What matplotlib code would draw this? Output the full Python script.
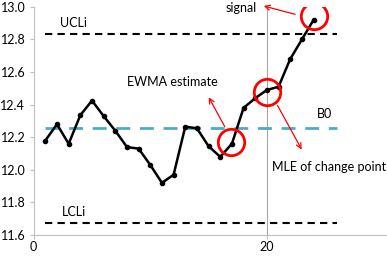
import matplotlib
matplotlib.use("Agg")
import matplotlib.pyplot as plt

# EWMA statistic per sample
sample = list(range(1, 25))
ewma = [12.18, 12.28, 12.16, 12.335, 12.425, 12.33, 12.24, 12.14, 12.13, 12.03,
        11.92, 11.97, 12.265, 12.255, 12.145, 12.08, 12.16, 12.38, 12.44, 12.49,
        12.51, 12.68, 12.80, 12.92]

ucl = 12.835
lcl = 11.675
b0 = 12.255
line_span = [1, 26]

plt.rcParams['font.family'] = ['Lato', 'DejaVu Sans']
plt.rcParams['font.size'] = 9

fig = plt.figure(figsize=(3.87, 2.56), dpi=100)
ax = fig.add_axes([0.087, 0.082, 0.913, 0.891])

ax.axvline(20, color='#a6a6a6', lw=0.8, zorder=0)
ax.plot(line_span, [ucl, ucl], color='black', lw=1.5, dashes=(3.5, 2.5))
ax.plot(line_span, [lcl, lcl], color='black', lw=1.5, dashes=(3.5, 2.5))
ax.plot(line_span, [b0, b0], color='#4bacc6', lw=2, dashes=(5, 3.5))
ax.plot(sample, ewma, color='black', lw=1.8, marker='o', ms=3)

# red circles
ax.plot([24, 20, 16.9], [12.945, 12.48, 12.17], ls='none', marker='o', ms=19,
        mfc='none', mec='red', mew=2)

arrow = dict(arrowstyle='->', color='red', lw=0.9)
ax.annotate('', xy=(19.5, 13.01), xytext=(22.65, 12.95), arrowprops=arrow, annotation_clip=False)
ax.annotate('', xy=(14.9, 12.46), xytext=(16.5, 12.25), arrowprops=arrow)
ax.annotate('', xy=(23.1, 12.11), xytext=(20.8, 12.41), arrowprops=arrow)

ax.text(19.1, 12.995, 'signal', ha='right', va='center')
ax.text(2.3, 12.90, 'UCLi', ha='left', va='center')
ax.text(2.4, 11.74, 'LCLi', ha='left', va='center')
ax.text(8.0, 12.54, 'EWMA estimate', ha='left', va='center')
ax.text(24.3, 12.34, 'B0', ha='left', va='center')
ax.text(20.4, 12.02, 'MLE of change point', ha='left', va='center')

ax.set_xlim(0, 30.3)
ax.set_ylim(11.6, 13.0)
ax.set_xticks([0, 20])
ax.set_yticks([11.6, 11.8, 12.0, 12.2, 12.4, 12.6, 12.8, 13.0])
ax.set_yticklabels(['11.6', '11.8', '12.0', '12.2', '12.4', '12.6', '12.8', '13.0'])
for s in ['top', 'right']:
    ax.spines[s].set_visible(False)
for s in ['left', 'bottom']:
    ax.spines[s].set_color('#bfbfbf')
ax.tick_params(colors='#bfbfbf', labelcolor='black', length=3)
ax.tick_params(axis='y', pad=3)
ax.tick_params(axis='x', pad=1.5)

fig.savefig('out.png', dpi=100)
